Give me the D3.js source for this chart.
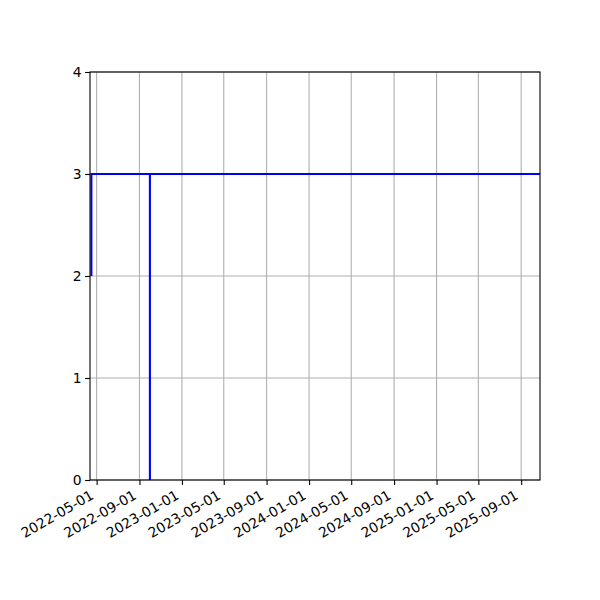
<!DOCTYPE html>
<html><head><meta charset="utf-8">
<script src="https://cdn.jsdelivr.net/npm/d3@7"></script>
<style>body{margin:0;background:#fff}svg{display:block}</style>
</head><body>
<script>
const dates = ["2022-04-16","2022-04-16","2022-10-01","2022-10-01","2022-10-01","2025-10-26"];
const values = [2,3,3,0,3,3];
const xTickLabels = ["2022-05-01","2022-09-01","2023-01-01","2023-05-01","2023-09-01","2024-01-01","2024-05-01","2024-09-01","2025-01-01","2025-05-01","2025-09-01"];
const yTicks = [0,1,2,3,4];
const xDomain = ["2022-04-12","2025-10-25"];

const parse = d3.utcParse("%Y-%m-%d");
const W=600,H=600,L=90,R=540,T=72,B=480;
const svg = d3.select("body").append("svg").attr("width",W).attr("height",H);
const x = d3.scaleUtc().domain(xDomain.map(parse)).range([L,R]);
const y = d3.scaleLinear().domain([0,4]).range([B,T]);
const font = "DejaVu Sans, sans-serif";
const fs = 13.9;

// grid
const g = svg.append("g");
g.selectAll(".vg").data(xTickLabels).join("line")
  .attr("x1",d=>x(parse(d))).attr("x2",d=>x(parse(d))).attr("y1",T).attr("y2",B)
  .attr("stroke","#b0b0b0").attr("stroke-width",1.1);
g.selectAll(".hg").data(yTicks).join("line")
  .attr("x1",L).attr("x2",R).attr("y1",d=>y(d)).attr("y2",d=>y(d))
  .attr("stroke","#b0b0b0").attr("stroke-width",1.1);

// line
svg.append("defs").append("clipPath").attr("id","c").append("rect").attr("x",L).attr("y",T).attr("width",R-L).attr("height",B-T);
const pts = dates.map((d,i)=>[parse(d),values[i]]);
svg.append("path").datum(pts).attr("clip-path","url(#c)")
  .attr("d",d3.line().x(d=>x(d[0])).y(d=>y(d[1])))
  .attr("fill","none").attr("stroke","#0000ff").attr("stroke-width",2.1);

// axes
const xa = svg.append("g").attr("transform",`translate(0,${B})`)
  .call(d3.axisBottom(x).tickValues(xTickLabels.map(parse)).tickFormat(d3.utcFormat("%Y-%m-%d")).tickSize(4.9).tickPadding(3.5));
xa.select(".domain").remove();
xa.selectAll(".tick line").attr("stroke","#000").attr("stroke-width",1.1);
xa.selectAll(".tick text").attr("font-family",font).attr("font-size",fs+"px").attr("fill","#000")
  .attr("text-anchor","end").attr("x",0).attr("y",0).attr("dy",0)
  .attr("transform","translate(-2.5,18) rotate(-30)");

const ya = svg.append("g").attr("transform",`translate(${L},0)`)
  .call(d3.axisLeft(y).tickValues(yTicks).tickFormat(d3.format("d")).tickSize(4.9).tickPadding(3.5));
ya.select(".domain").remove();
ya.selectAll(".tick line").attr("stroke","#000").attr("stroke-width",1.1);
ya.selectAll(".tick text").attr("font-family",font).attr("font-size",fs+"px").attr("fill","#000");

svg.append("rect").attr("x",L).attr("y",T).attr("width",R-L).attr("height",B-T)
  .attr("fill","none").attr("stroke","#000").attr("stroke-width",1.1);
</script>
</body></html>
